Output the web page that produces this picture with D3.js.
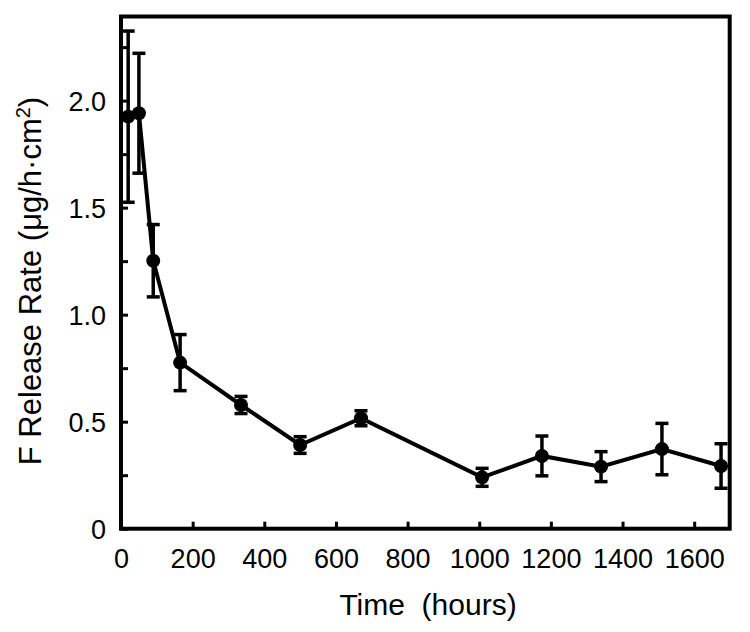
<!DOCTYPE html>
<head>
  <meta charset="utf-8">
  <style>
    body { margin: 0; background: #fff; }
    text { font-family: "Liberation Sans", Arial, sans-serif; fill: #000; }
  </style>
  <script src="https://d3js.org/d3.v7.min.js"></script>
</head>
<body>
  <div id="chart"></div>
  <script>
  // data
  var times = [20, 50, 90, 165, 335, 500, 670, 1008, 1175, 1340, 1510, 1675];
  var rates = [1.925, 1.941, 1.252, 0.776, 0.578, 0.391, 0.516, 0.240, 0.340, 0.290, 0.372, 0.293];
  var errs  = [0.40, 0.28, 0.169, 0.131, 0.04, 0.039, 0.035, 0.042, 0.093, 0.07, 0.12, 0.104];
  var xTicks = [0, 200, 400, 600, 800, 1000, 1200, 1400, 1600];
  var yTicks = [0, 0.5, 1.0, 1.5, 2.0];
  var yMinor = [0.25, 0.75, 1.25, 1.75, 2.25];

  var margin = {top: 16.5, right: 20, bottom: 103.3, left: 121},
      width = 750 - margin.left - margin.right,
      height = 632 - margin.top - margin.bottom;

  var x = d3.scaleLinear().domain([0, 1700]).range([0, width]);
  var y = d3.scaleLinear().domain([0, 2.393]).range([height, 0]);

  var svg = d3.select("#chart").append("svg")
      .attr("width", 750)
      .attr("height", 632)
    .append("g")
      .attr("transform", "translate(" + margin.left + "," + margin.top + ")");

  var data = times.map(function(t, i) { return {t: t, v: rates[i], e: errs[i]}; });

  // x axis, ticks pointing in
  svg.append("g")
      .attr("transform", "translate(0," + height + ")")
      .call(d3.axisBottom(x).tickValues(xTicks).tickSizeInner(-7).tickSizeOuter(0)
              .tickFormat(d3.format("d")))
      .call(function(g) {
        g.select(".domain").remove();
        g.selectAll(".tick line").attr("stroke", "#000").attr("stroke-width", 3);
        g.selectAll(".tick text")
          .attr("y", 39.5)
          .attr("dy", 0)
          .style("font-size", "27px");
      });

  // y axis
  svg.append("g")
      .call(d3.axisLeft(y).tickValues(yTicks).tickSizeInner(-7).tickSizeOuter(0)
              .tickFormat(function(d) { return d === 0 ? "0" : d3.format(".1f")(d); }))
      .call(function(g) {
        g.select(".domain").remove();
        g.selectAll(".tick line").attr("stroke", "#000").attr("stroke-width", 3);
        g.selectAll(".tick text")
          .attr("x", -15)
          .attr("dy", "0.36em")
          .style("font-size", "27px");
      });

  svg.append("g")
      .call(d3.axisLeft(y).tickValues(yMinor).tickSizeInner(-7).tickSizeOuter(0).tickFormat(""))
      .call(function(g) {
        g.select(".domain").remove();
        g.selectAll(".tick line").attr("stroke", "#000").attr("stroke-width", 3);
      });

  // frame
  svg.append("rect")
      .attr("width", width - 0.3)
      .attr("height", height)
      .attr("fill", "none")
      .attr("stroke", "#000")
      .attr("stroke-width", 4);

  // error bars
  var eb = svg.selectAll(".err").data(data).enter().append("g").attr("class", "err")
      .attr("stroke", "#000").attr("stroke-width", 3.5);
  eb.append("line")
      .attr("x1", function(d) { return x(d.t); })
      .attr("x2", function(d) { return x(d.t); })
      .attr("y1", function(d) { return y(d.v + d.e); })
      .attr("y2", function(d) { return y(d.v - d.e); });
  eb.append("line")
      .attr("x1", function(d) { return x(d.t) - 6.5; })
      .attr("x2", function(d) { return x(d.t) + 6.5; })
      .attr("y1", function(d) { return y(d.v + d.e); })
      .attr("y2", function(d) { return y(d.v + d.e); });
  eb.append("line")
      .attr("x1", function(d) { return x(d.t) - 6.5; })
      .attr("x2", function(d) { return x(d.t) + 6.5; })
      .attr("y1", function(d) { return y(d.v - d.e); })
      .attr("y2", function(d) { return y(d.v - d.e); });

  // line + markers
  svg.append("path")
      .datum(data)
      .attr("fill", "none")
      .attr("stroke", "#000")
      .attr("stroke-width", 4)
      .attr("d", d3.line().x(function(d) { return x(d.t); }).y(function(d) { return y(d.v); }));

  svg.selectAll(".dot").data(data).enter().append("circle")
      .attr("class", "dot")
      .attr("cx", function(d) { return x(d.t); })
      .attr("cy", function(d) { return y(d.v); })
      .attr("r", 7)
      .attr("fill", "#000");

  // axis titles
  svg.append("text")
      .attr("x", 307)
      .attr("y", 615 - margin.top)
      .attr("text-anchor", "middle")
      .style("font-size", "30px")
      .style("white-space", "pre")
      .text("Time  (hours)");

  var yl = svg.append("text")
      .attr("transform", "translate(" + (41 - margin.left) + "," + (281 - margin.top) + ") rotate(-90)")
      .attr("text-anchor", "middle")
      .style("font-size", "31px");
  yl.append("tspan").text("F Release Rate (\u03bcg/h\u00b7cm");
  yl.append("tspan").attr("baseline-shift", "super").style("font-size", "20px").text("2");
  yl.append("tspan").text(")");
  </script>
</body>
</html>
